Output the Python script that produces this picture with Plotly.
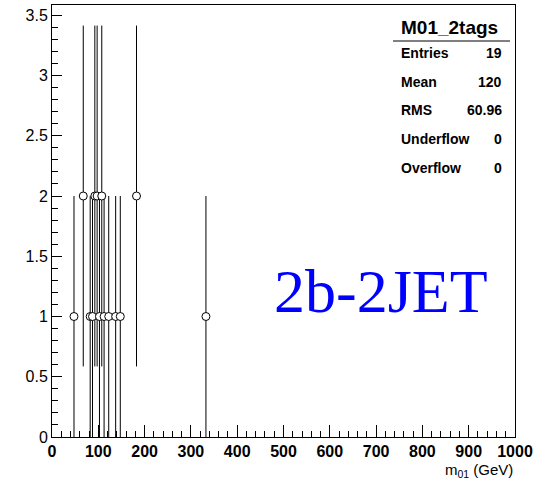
import math
import plotly.graph_objects as go

# ---- data ----
bin_centers = [47.5, 67.5, 82.5, 87.5, 92.5, 97.5, 102.5, 107.5, 112.5,
               122.5, 137.5, 147.5, 182.5, 332.5]
bin_counts = [1, 2, 1, 1, 2, 2, 1, 2, 1, 1, 1, 1, 2, 1]
bin_errors = [math.sqrt(c) for c in bin_counts]

stats_title = "M01_2tags"
stats_labels = ["Entries", "Mean", "RMS", "Underflow", "Overflow"]
stats_values = ["19", "120", "60.96", "0", "0"]

x_tickvals = [0, 100, 200, 300, 400, 500, 600, 700, 800, 900, 1000]
y_tickvals = [0, 0.5, 1, 1.5, 2, 2.5, 3, 3.5]
y_ticktext = ["0", "0.5", "1", "1.5", "2", "2.5", "3", "3.5"]

# ---- layout geometry (pixels) ----
W, H = 546, 488
L, R, T, B = 52, 515, 5, 437
def px(x):
    return (x - L) / (R - L)
def py(y):
    return (B - y) / (B - T)

NARROW = "Liberation Sans Narrow, Arial Narrow, Liberation Sans, Arial"

fig = go.Figure()
fig.add_trace(go.Scatter(
    x=bin_centers, y=bin_counts, mode="markers",
    marker=dict(symbol="circle", size=8, color="white",
                line=dict(color="black", width=1)),
    error_y=dict(type="data", array=bin_errors, visible=True,
                 color="black", thickness=1, width=0),
    showlegend=False, hoverinfo="x+y",
))

annotations = []
# stats box
annotations.append(dict(x=px(449), y=py(28), xref="paper", yref="paper",
                        text="<b>" + stats_title + "</b>", showarrow=False,
                        xanchor="center", yanchor="middle",
                        font=dict(family=NARROW, size=19, color="black")))
rows_y = [53, 82, 110, 139, 168]
for lab, val, yy in zip(stats_labels, stats_values, rows_y):
    annotations.append(dict(x=px(399), y=py(yy), xref="paper", yref="paper",
                            text="<b>" + lab + "</b>", showarrow=False,
                            xanchor="left", yanchor="middle",
                            font=dict(family=NARROW, size=14, color="black")))
    annotations.append(dict(x=px(504), y=py(yy), xref="paper", yref="paper",
                            text="<b>" + val + "</b>", showarrow=False,
                            xanchor="right", yanchor="middle",
                            font=dict(family=NARROW, size=14, color="black")))
# big label
annotations.append(dict(x=px(381), y=py(291), xref="paper", yref="paper",
                        text="2b-2JET", showarrow=False,
                        xanchor="center", yanchor="middle",
                        font=dict(family="Liberation Serif, Times New Roman, serif",
                                  size=62, color="#0000ff")))
# x axis title
annotations.append(dict(x=px(515), y=py(470), xref="paper", yref="paper",
                        text="m<sub>01</sub> (GeV)", showarrow=False,
                        xanchor="right", yanchor="middle",
                        font=dict(family=NARROW, size=15, color="black")))

fig.update_layout(
    width=W, height=H,
    margin=dict(l=L, r=W - R, t=T, b=H - B, pad=0),
    paper_bgcolor="white", plot_bgcolor="white",
    annotations=annotations,
    shapes=[dict(type="line", xref="paper", yref="paper",
                 x0=px(393), x1=px(510), y0=py(41), y1=py(41),
                 line=dict(color="black", width=1))],
)
fig.update_xaxes(
    range=[0, 1000], showgrid=False, zeroline=False,
    showline=True, linecolor="black", linewidth=1, mirror=True,
    ticks="inside", ticklen=12, tickcolor="black", tickwidth=1,
    tickvals=x_tickvals,
    tickfont=dict(family=NARROW, size=16, color="black", weight="bold"),
    minor=dict(ticks="inside", ticklen=6, dtick=20, tickcolor="black", tickwidth=1),
)
fig.update_yaxes(
    range=[0, 3.585], showgrid=False, zeroline=False,
    showline=True, linecolor="black", linewidth=1, mirror=True,
    ticks="inside", ticklen=10, tickcolor="black", tickwidth=1,
    tickvals=y_tickvals, ticktext=y_ticktext,
    tickfont=dict(family=NARROW, size=16, color="black"),
    minor=dict(ticks="inside", ticklen=6, dtick=0.1, tickcolor="black", tickwidth=1),
)

fig.write_html("out.html")
